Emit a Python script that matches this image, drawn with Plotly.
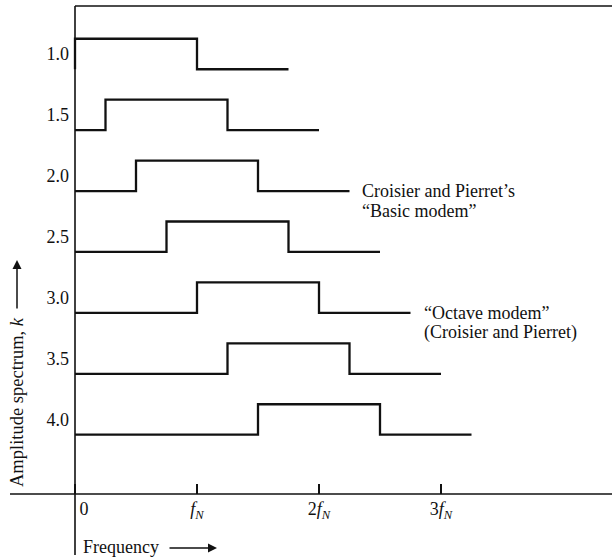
import plotly.graph_objects as go

# ---- data ----
k_values = [1.0, 1.5, 2.0, 2.5, 3.0, 3.5, 4.0]
k_labels = ["1.0", "1.5", "2.0", "2.5", "3.0", "3.5", "4.0"]
band_start = [0.0, 0.25, 0.5, 0.75, 1.0, 1.25, 1.5]   # in units of f_N
band_end = [1.0, 1.25, 1.5, 1.75, 2.0, 2.25, 2.5]
line_end = [1.75, 2.0, 2.25, 2.5, 2.75, 3.0, 3.25]
amplitude = [0, 1, 0, 0]  # low -> high -> low -> low (hv steps)

freq_ticks = [0, 1, 2, 3]
freq_tick_labels = ["\u00a0\u00a0\u00a0\u00a00", "<i>f<sub>N</sub></i>",
                    "2<i>f<sub>N</sub></i>", "3<i>f<sub>N</sub></i>"]

W, H = 612, 559
X0_PX, XSCALE = 75.0, 122.0
Y1_PX, YSCALE = 54.0, 121.83
def fx(px):
    return (px - X0_PX) / XSCALE
def fy(py):
    return 1 + (py - Y1_PX) / YSCALE

FONT = "Liberation Serif"
INK = "#111111"
STEP_H = 0.25

fig = go.Figure()
for k, s, e, L in zip(k_values, band_start, band_end, line_end):
    xs = [0, s, e, L]
    ys = [k + STEP_H / 2 - STEP_H * a for a in amplitude]
    fig.add_trace(go.Scatter(x=xs, y=ys, mode="lines", line_shape="hv",
                             line=dict(color=INK, width=2.3),
                             hoverinfo="skip", showlegend=False))

shapes = [
    # y axis
    dict(type="line", xref="x", yref="y", x0=0, x1=0, y0=fy(6), y1=fy(555),
         line=dict(color=INK, width=1.6)),
    # top frame
    dict(type="line", xref="x", yref="y", x0=0, x1=fx(W), y0=fy(6), y1=fy(6),
         line=dict(color=INK, width=1.6)),
    # x axis
    dict(type="line", xref="x", yref="y", x0=fx(10), x1=fx(W), y0=fy(494), y1=fy(494),
         line=dict(color=INK, width=1.6)),
]

annotations = [
    dict(text="Amplitude spectrum, <i>k</i>", textangle=-90, xref="paper", yref="paper",
         x=17 / W, y=1 - 402 / H, xanchor="center", yanchor="middle",
         showarrow=False, font=dict(family=FONT, size=18.5, color=INK)),
    dict(text="", xref="paper", yref="paper", x=17 / W, y=1 - 260 / H, ax=0, ay=50,
         showarrow=True, arrowhead=2, arrowsize=1.2, arrowwidth=1.5, arrowcolor=INK),
    dict(text="Frequency", xref="paper", yref="paper", x=81 / W, y=1 - 547 / H,
         xanchor="left", yanchor="middle", showarrow=False,
         font=dict(family=FONT, size=18, color=INK)),
    dict(text="", xref="paper", yref="paper", x=217 / W, y=1 - 548 / H, ax=-49, ay=0,
         showarrow=True, arrowhead=2, arrowsize=1.2, arrowwidth=1.5, arrowcolor=INK),
    dict(text="Croisier and Pierret\u2019s", xref="x", yref="y", x=line_end[2],
         y=k_values[2] + STEP_H / 2, xshift=10, xanchor="left", yanchor="middle",
         showarrow=False, font=dict(family=FONT, size=18, color=INK)),
    dict(text="\u201cBasic modem\u201d", xref="x", yref="y", x=line_end[2],
         y=k_values[2] + STEP_H / 2, xshift=10, yshift=-20, xanchor="left", yanchor="middle",
         showarrow=False, font=dict(family=FONT, size=18, color=INK)),
    dict(text="\u201cOctave modem\u201d", xref="x", yref="y", x=line_end[4],
         y=k_values[4] + STEP_H / 2, xshift=11, xanchor="left", yanchor="middle",
         showarrow=False, font=dict(family=FONT, size=18, color=INK)),
    dict(text="(Croisier and Pierret)", xref="x", yref="y", x=line_end[4],
         y=k_values[4] + STEP_H / 2, xshift=11, yshift=-20, xanchor="left", yanchor="middle",
         showarrow=False, font=dict(family=FONT, size=18, color=INK)),
]

fig.update_layout(
    width=W, height=H, margin=dict(l=0, r=0, t=0, b=0),
    paper_bgcolor="white", plot_bgcolor="white", showlegend=False,
    shapes=shapes, annotations=annotations,
    xaxis=dict(range=[fx(0), fx(W)], domain=[0, 1], anchor="free", position=1 - 494 / H,
               showline=False, showgrid=False, zeroline=False,
               ticks="inside", ticklen=10, tickwidth=1.5, tickcolor=INK,
               tickvals=freq_ticks, ticktext=freq_tick_labels, ticklabelstandoff=2,
               tickfont=dict(family=FONT, size=18, color=INK), fixedrange=True),
    yaxis=dict(range=[fy(H), fy(0)], domain=[0, 1], anchor="free", position=X0_PX / W,
               showline=False, showgrid=False, zeroline=False, ticks="",
               tickvals=k_values, ticktext=k_labels, ticklabelstandoff=6,
               tickfont=dict(family=FONT, size=18, color=INK), fixedrange=True),
)

fig.write_html("out.html", config={"displayModeBar": False},
               post_script="document.body.style.margin='0';document.body.style.padding='0';")
